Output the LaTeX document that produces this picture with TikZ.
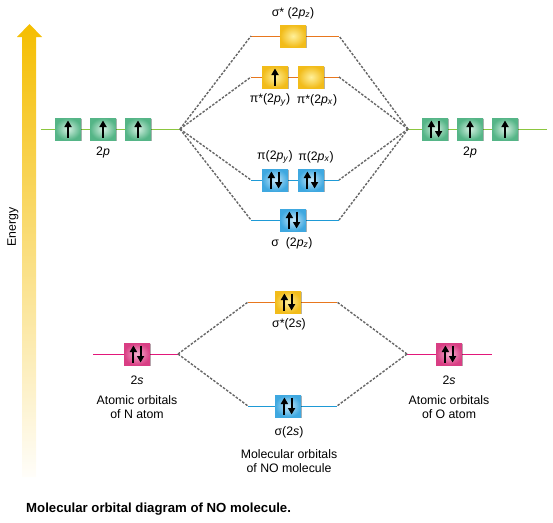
\documentclass[tikz,border=0pt]{standalone}
\usepackage{fontspec}
\setmainfont{Liberation Sans}
\usepackage{xcolor}
\definecolor{cGold}{HTML}{F5BE00}
\definecolor{cGreenLine}{HTML}{8CC63F}
\definecolor{cGreenBox}{HTML}{55B587}
\definecolor{cGreenIn}{HTML}{D5F0E2}
\definecolor{cOrangeLine}{HTML}{E8771E}
\definecolor{cGoldBox}{HTML}{F2BC1A}
\definecolor{cGoldIn}{HTML}{FFF09A}
\definecolor{cBlueLine}{HTML}{1E9AD6}
\definecolor{cBlueBox}{HTML}{3FA8E0}
\definecolor{cBlueIn}{HTML}{C6E8FA}
\definecolor{cPinkLine}{HTML}{E2177A}
\definecolor{cPinkBox}{HTML}{D93E84}
\definecolor{cPinkIn}{HTML}{F5B0CF}
\definecolor{cLink}{HTML}{666666}
\usepackage{tikz}
\usetikzlibrary{arrows.meta,calc,shadows}
\tikzset{
  orb-box/.style={minimum width=26pt,minimum height=22pt,inner sep=0pt,
    drop shadow={shadow xshift=1pt,shadow yshift=-1pt,opacity=.3,fill=black}},
  orb-green/.style={orb-box,inner color=cGreenIn,outer color=cGreenBox},
  orb-gold/.style={orb-box,inner color=cGoldIn,outer color=cGoldBox},
  orb-blue/.style={orb-box,inner color=cBlueIn,outer color=cBlueBox},
  orb-pink/.style={orb-box,inner color=cPinkIn,outer color=cPinkBox},
  level/.style={line width=0.9pt},
  link/.style={dash pattern=on 2.5pt off 1.5pt,line width=1.4pt,draw=cLink},
  elec/.style={-{Triangle[length=6.5pt,width=7pt]},line width=1.9pt},
  lbl/.style={font=\fontsize{12.3}{14}\selectfont,align=center,inner sep=0pt},
}
% electrons in a box
\newcommand\spinup[1]{\draw[elec] ($(#1)+(0,8.5)$) -- ($(#1)+(0,-8.5)$);}
\newcommand\spinpair[1]{%
  \draw[elec] ($(#1)+(-3.6,8.5)$) -- ($(#1)+(-3.6,-8.5)$);
  \draw[elec] ($(#1)+(3.6,-8.5)$) -- ($(#1)+(3.6,8.5)$);}

\begin{document}
\begin{tikzpicture}[x=1pt,y=-1pt]
  \useasboundingbox (0,0) rectangle (553,522);
  % energy axis
  \shade[top color=cGold,middle color=cGold!55,bottom color=cGold!2]
    (22,477) -- (22,37) -- (17,37) -- (29.5,24) -- (42,37) -- (36,37) -- (36,477) -- cycle;
  \node[lbl,rotate=90] (energy) at (13,227) {Energy};

  % level ends
  \coordinate (n2p-l) at (41,129);  \coordinate (n2p-r) at (180,129);
  \coordinate (o2p-l) at (408,129); \coordinate (o2p-r) at (547,129);
  \coordinate (n2s-l) at (93,354);  \coordinate (n2s-r) at (178,354);
  \coordinate (o2s-l) at (407,354); \coordinate (o2s-r) at (492,354);
  \coordinate (sz-star-l) at (251,36);  \coordinate (sz-star-r) at (339,36);
  \coordinate (p-star-l) at (251,77);   \coordinate (p-star-r) at (339,77);
  \coordinate (p-l) at (251,180);       \coordinate (p-r) at (339,180);
  \coordinate (sz-l) at (251,220);      \coordinate (sz-r) at (339,220);
  \coordinate (ss-star-l) at (248,302); \coordinate (ss-star-r) at (337,302);
  \coordinate (ss-l) at (248,406);      \coordinate (ss-r) at (337,406);

  % levels
  \draw[level,cGreenLine] (n2p-l) -- (n2p-r);
  \draw[level,cGreenLine] (o2p-l) -- (o2p-r);
  \draw[level,cPinkLine] (n2s-l) -- (n2s-r);
  \draw[level,cPinkLine] (o2s-l) -- (o2s-r);
  \draw[level,cOrangeLine] (sz-star-l) -- (sz-star-r);
  \draw[level,cOrangeLine] (p-star-l) -- (p-star-r);
  \draw[level,cBlueLine] (p-l) -- (p-r);
  \draw[level,cBlueLine] (sz-l) -- (sz-r);
  \draw[level,cOrangeLine] (ss-star-l) -- (ss-star-r);
  \draw[level,cBlueLine] (ss-l) -- (ss-r);

  % correlation lines
  \foreach \m in {sz-star,p-star,p,sz} {
    \draw[link] (n2p-r) -- (\m-l);
    \draw[link] (o2p-l) -- (\m-r);
  }
  \foreach \m in {ss-star,ss} {
    \draw[link] (n2s-r) -- (\m-l);
    \draw[link] (o2s-l) -- (\m-r);
  }

  % orbital boxes
  \node[orb-green] (n2p-a) at (68,129) {};
  \node[orb-green] (n2p-b) at (103,129) {};
  \node[orb-green] (n2p-c) at (138,129) {};
  \node[orb-green] (o2p-a) at (435,129) {};
  \node[orb-green] (o2p-b) at (470,129) {};
  \node[orb-green] (o2p-c) at (505,129) {};
  \node[orb-pink] (n2s) at (137,354) {};
  \node[orb-pink] (o2s) at (449,354) {};
  \node[orb-gold] (sz-star) at (293,36) {};
  \node[orb-gold] (py-star) at (275,77) {};
  \node[orb-gold] (px-star) at (311,77) {};
  \node[orb-blue] (py) at (275,180) {};
  \node[orb-blue] (px) at (311,180) {};
  \node[orb-blue] (sz) at (293,220) {};
  \node[orb-gold] (ss-star) at (288,302) {};
  \node[orb-blue] (ss) at (288,406) {};

  % electrons
  \spinup{n2p-a} \spinup{n2p-b} \spinup{n2p-c}
  \spinpair{o2p-a} \spinup{o2p-b} \spinup{o2p-c}
  \spinpair{n2s} \spinpair{o2s}
  \spinup{py-star}
  \spinpair{py} \spinpair{px} \spinpair{sz}
  \spinpair{ss-star} \spinpair{ss}

  % labels
  \node[lbl] (n2p-txt) at (103,152) {2\textit{p}};
  \node[lbl] (o2p-txt) at (470,152) {2\textit{p}};
  \node[lbl] (sz-star-txt) at (293,13) {σ* (2\textit{p}\textsubscript{\textit{z}})};
  \node[lbl] (py-star-txt) at (270,100) {π*(2\textit{p}\textsubscript{\textit{y}})};
  \node[lbl] (px-star-txt) at (317,100) {π*(2\textit{p}\textsubscript{\textit{x}})};
  \node[lbl] (py-txt) at (275,157) {π(2\textit{p}\textsubscript{\textit{y}})};
  \node[lbl] (px-txt) at (316,157) {π(2\textit{p}\textsubscript{\textit{x}})};
  \node[lbl] (sz-txt) at (292,243) {σ\ \ (2\textit{p}\textsubscript{\textit{z}})};
  \node[lbl] (ss-star-txt) at (289,324) {σ*(2\textit{s})};
  \node[lbl] (ss-txt) at (289,432) {σ(2\textit{s})};
  \node[lbl] (mo-txt) at (289,461) {Molecular orbitals\\of NO molecule};
  \node[lbl] (n2s-txt) at (137,380) {2\textit{s}};
  \node[lbl] (n-txt) at (137,407) {Atomic orbitals\\of N atom};
  \node[lbl] (o2s-txt) at (449,380) {2\textit{s}};
  \node[lbl] (o-txt) at (449,407) {Atomic orbitals\\of O atom};
  \node[lbl,anchor=west,font=\fontsize{13.2}{15}\selectfont\bfseries] (caption) at (26,509)
    {Molecular orbital diagram of NO molecule.};
\end{tikzpicture}
\end{document}
